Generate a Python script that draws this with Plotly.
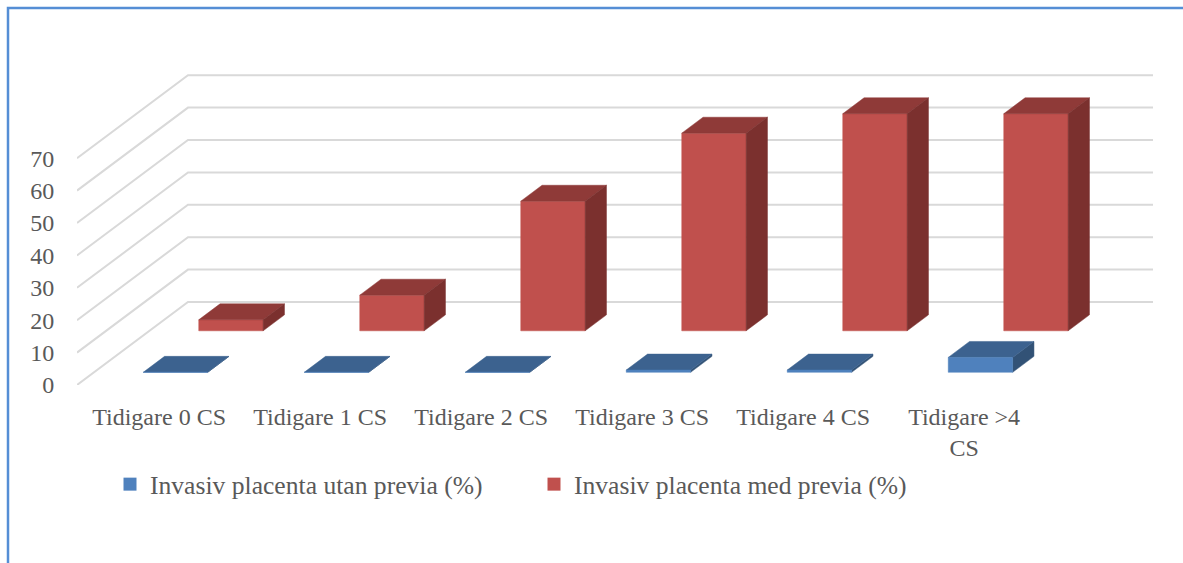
import plotly.graph_objects as go

# Chart data
categories = ["Tidigare 0 CS", "Tidigare 1 CS", "Tidigare 2 CS",
              "Tidigare 3 CS", "Tidigare 4 CS", "Tidigare >4<br>CS"]
utan_previa = [0, 0, 0, 0.7, 0.7, 4.6]
med_previa = [3.4, 11, 40, 61, 67, 67]
value_ticks = [0, 10, 20, 30, 40, 50, 60, 70]

# Page geometry in pixels
W, H = 1183, 563
L, R, T, B = 77, 30, 60, 178
PX_PER_CAT = 161
PX_PER_VAL = 3.24

# Oblique projection: a unit of depth shifts right and up
DEPTH_X = 111 / PX_PER_CAT
DEPTH_Y = 83 / PX_PER_VAL
BAR_START, BAR_WIDTH = 0.306, 0.400
BAR_DEPTH = 0.192


def project(x, value, depth):
    return x + depth * DEPTH_X, value + depth * DEPTH_Y


def polygons(values, depth0):
    """Front, top and side faces of a row of bars, each as one gap-separated path."""
    faces = {"front": ([], []), "top": ([], []), "side": ([], [])}

    def add(face, corners):
        xs, ys = zip(*[project(*c) for c in corners])
        faces[face][0].extend(list(xs) + [xs[0], None])
        faces[face][1].extend(list(ys) + [ys[0], None])

    d0, d1 = depth0, depth0 + BAR_DEPTH
    for i, v in enumerate(values):
        x0, x1 = i + BAR_START, i + BAR_START + BAR_WIDTH
        add("front", [(x0, 0, d0), (x1, 0, d0), (x1, v, d0), (x0, v, d0)])
        add("top", [(x0, v, d0), (x1, v, d0), (x1, v, d1), (x0, v, d1)])
        add("side", [(x1, 0, d0), (x1, 0, d1), (x1, v, d1), (x1, v, d0)])
    return faces


def add_series(fig, name, values, depth0, colors):
    faces = polygons(values, depth0)
    for face, color in colors.items():
        xs, ys = faces[face]
        fig.add_trace(go.Scatter(
            x=xs, y=ys, mode="lines", fill="toself", fillcolor=color,
            line=dict(color=color, width=0.5), name=name,
            showlegend=False, hoverinfo="skip", cliponaxis=False))


fig = go.Figure()

# Floor-to-wall gridlines: slanted along the side wall, then flat along the back
x_end = 1076 / PX_PER_CAT
grid_x, grid_y = [], []
for v in value_ticks:
    bx, by = project(0, v, 1)
    grid_x += [0, bx, x_end, None]
    grid_y += [v, by, by, None]
fig.add_trace(go.Scatter(x=grid_x, y=grid_y, mode="lines",
                         line=dict(color="#D9D9D9", width=2),
                         showlegend=False, hoverinfo="skip", cliponaxis=False))

RED = {"front": "#C0504D", "top": "#8F3A38", "side": "#7B302E"}
BLUE = {"side": "#325276", "top": "#3C628F", "front": "#4F81BD"}
add_series(fig, "Invasiv placenta med previa (%)", med_previa, 0.653, RED)
add_series(fig, "Invasiv placenta utan previa (%)", utan_previa, 0.153, BLUE)

# Legend keys
for name, color in [("Invasiv placenta utan previa (%)", "#4F81BD"),
                    ("Invasiv placenta med previa (%)", "#C0504D")]:
    fig.add_trace(go.Scatter(x=[None], y=[None], mode="markers", name=name,
                             marker=dict(symbol="square", size=13, color=color)))


def paper_x(px):
    return (px - L) / (W - L - R)


def paper_y(py):
    return (H - B - py) / (H - T - B)


FONT = "Liberation Serif"
TEXT = "#595959"

fig.update_layout(
    width=W, height=H, autosize=False,
    margin=dict(l=L, r=R, t=T, b=B, pad=0),
    paper_bgcolor="white", plot_bgcolor="white",
    font=dict(family=FONT, size=24, color=TEXT),
    xaxis=dict(range=[0, x_end], showgrid=False, zeroline=False, showline=False,
               tickmode="array", tickvals=[i + 0.51 for i in range(len(categories))],
               ticktext=categories, ticks="outside", ticklen=10,
               tickcolor="rgba(0,0,0,0)", tickfont=dict(family=FONT, size=24, color=TEXT),
               tickangle=0, automargin=False),
    yaxis=dict(range=[0, (H - T - B) / PX_PER_VAL], showgrid=False, zeroline=False,
               showline=False, tickmode="array", tickvals=value_ticks,
               ticks="outside", ticklen=17, tickcolor="rgba(0,0,0,0)",
               tickfont=dict(family=FONT, size=24, color=TEXT), automargin=False),
    legend=dict(orientation="h", x=paper_x(110), xanchor="left",
                y=paper_y(461), yanchor="top", entrywidthmode="pixels", entrywidth=379,
                font=dict(family=FONT, size=25.6, color=TEXT),
                bgcolor="rgba(0,0,0,0)", traceorder="normal"),
    shapes=[dict(type="path", xref="paper", yref="paper",
                 path=f"M {paper_x(8)} {paper_y(H + 5)} L {paper_x(8)} {paper_y(8)} "
                      f"L {paper_x(W + 5)} {paper_y(8)}",
                 line=dict(color="#558ED5", width=2.5))],
)

fig.write_html("out.html")
